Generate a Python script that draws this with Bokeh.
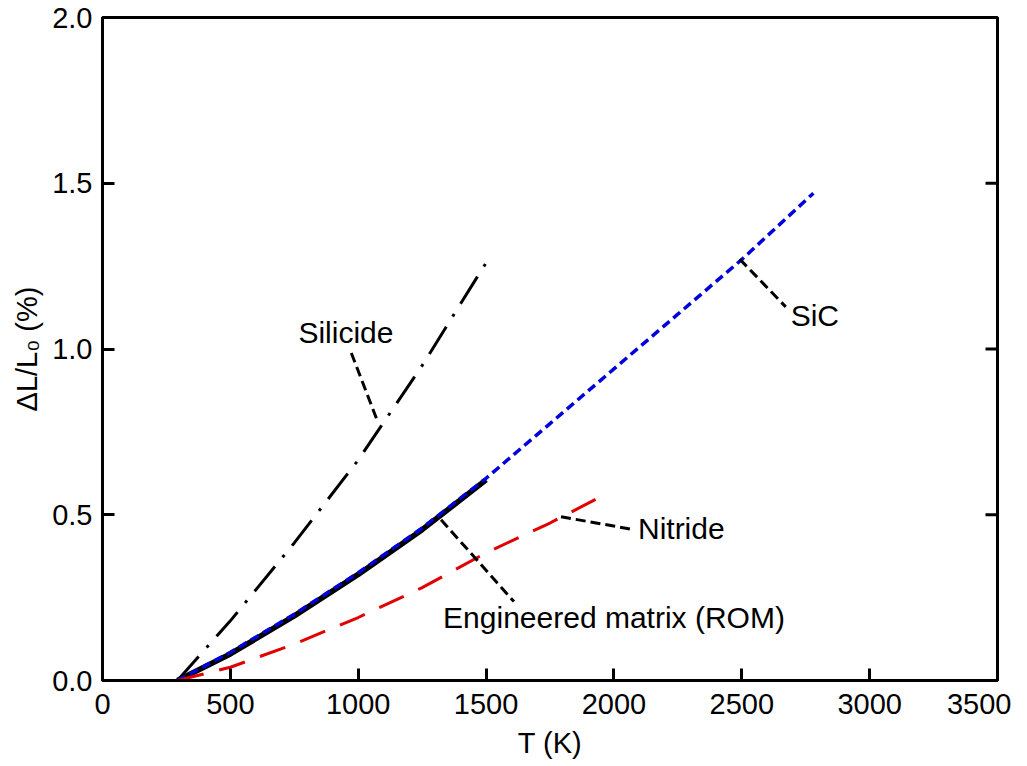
import math
from bokeh.plotting import figure
from bokeh.models import Range1d, FixedTicker, PrintfTickFormatter, ColumnDataSource
from bokeh.core.properties import value
from bokeh.embed import file_html
from bokeh.resources import INLINE

# ---- data ----
T_silicide = [293, 500, 750, 1000, 1250, 1500]
dL_silicide = [0.0, 0.18, 0.415, 0.665, 0.95, 1.26]

T_sic = [293, 500, 750, 1000, 1250, 1500, 1750, 2000, 2250, 2500, 2780]
dL_sic = [0.0, 0.085, 0.20, 0.325, 0.46, 0.61, 0.775, 0.94, 1.105, 1.27, 1.47]

T_rom = [293, 500, 750, 1000, 1250, 1500]
dL_rom = [0.0, 0.08, 0.195, 0.32, 0.455, 0.605]

T_nitride = [293, 500, 750, 1000, 1250, 1500, 1750, 1950]
dL_nitride = [0.0, 0.04, 0.11, 0.19, 0.28, 0.385, 0.475, 0.555]

x_ticks = [0, 500, 1000, 1500, 2000, 2500, 3000, 3500]
y_ticks = [0.0, 0.5, 1.0, 1.5, 2.0]
right_ticks = [0.5, 1.0, 1.5]

label_text = ["Silicide", "SiC", "Nitride", "Engineered matrix (ROM)"]
label_x = [766, 2691, 2094, 1332]
label_y = [1.05, 1.10, 0.458, 0.19]

leader_x0 = [973, 2492, 1793, 1324]
leader_y0 = [0.988, 1.271, 0.494, 0.485]
leader_x1 = [1078, 2672, 2078, 1609]
leader_y1 = [0.777, 1.127, 0.455, 0.238]

FONT = "Liberation Sans"

p = figure(width=1011, height=761, output_backend="svg", toolbar_location=None,
           x_range=Range1d(0, 3500), y_range=Range1d(0, 2.0),
           min_border_left=102, min_border_right=14, min_border_top=17, min_border_bottom=69)

p.background_fill_color = "white"
p.border_fill_color = "white"
p.outline_line_color = "black"
p.outline_line_width = 3
p.xgrid.visible = False
p.ygrid.visible = False

# curves
p.line(T_silicide, dL_silicide, line_color="black", line_width=3, line_dash="32 12 3 12")
p.line(T_rom, dL_rom, line_color="black", line_width=5.5)
p.line(T_sic, dL_sic, line_color="#0000dd", line_width=3.5, line_dash="9 5")
p.line(T_nitride, dL_nitride, line_color="#e00000", line_width=3, line_dash="27 16")

# leaders
p.segment(x0=leader_x0, y0=leader_y0, x1=leader_x1, y1=leader_y1,
          line_color="black", line_width=3, line_dash="10 5")

# labels
src = ColumnDataSource(dict(x=label_x, y=label_y, t=label_text))
p.text(x="x", y="y", text="t", source=src, text_font=value(FONT),
       text_font_size="30px", text_align="left", text_baseline="middle", text_color="black")

# right-side inward ticks
p.ray(x=[3500] * len(right_ticks), y=right_ticks, length=12, length_units="screen",
      angle=math.pi, line_color="black", line_width=3)

# axes
for ax in (p.xaxis[0], p.yaxis[0]):
    ax.axis_line_width = 3
    ax.axis_line_color = "black"
    ax.major_tick_in = 12
    ax.major_tick_out = 0
    ax.major_tick_line_width = 3
    ax.minor_tick_line_color = None
    ax.major_label_text_font = FONT
    ax.major_label_text_font_size = "29px"
    ax.major_label_text_color = "black"
    ax.axis_label_text_font = FONT
    ax.axis_label_text_font_size = "29px"
    ax.axis_label_text_font_style = "normal"
    ax.axis_label_text_color = "black"

p.xaxis[0].ticker = FixedTicker(ticks=x_ticks)
p.xaxis[0].formatter = PrintfTickFormatter(format="%d")
p.xaxis[0].axis_label = "T (K)"
p.xaxis[0].major_label_standoff = 13
p.xaxis[0].axis_label_standoff = 10

p.yaxis[0].ticker = FixedTicker(ticks=y_ticks)
p.yaxis[0].formatter = PrintfTickFormatter(format="%.1f")
p.yaxis[0].axis_label = "ΔL/L₀ (%)"
p.yaxis[0].major_label_standoff = 10
p.yaxis[0].axis_label_standoff = 6

open("out.html", "w").write(file_html(p, INLINE))
